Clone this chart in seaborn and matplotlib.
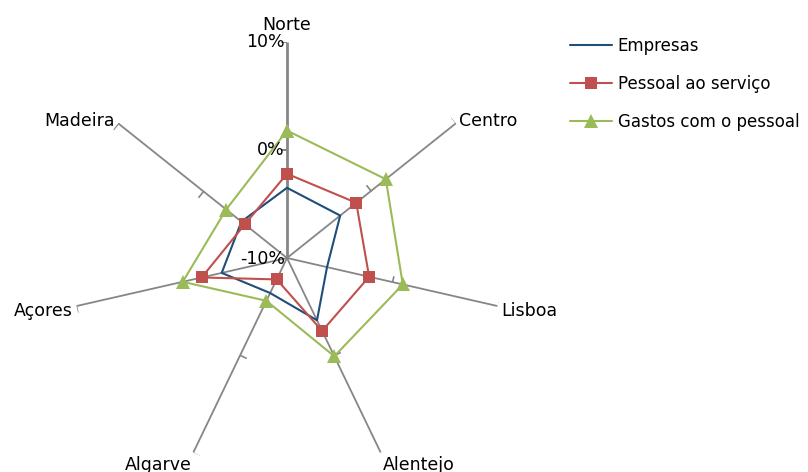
import numpy as np
import pandas as pd
import matplotlib
matplotlib.use("Agg")
import matplotlib.pyplot as plt
import seaborn as sns

# Data (variation, %)
regions = ["Norte", "Centro", "Lisboa", "Alentejo", "Algarve", "Açores", "Madeira"]
empresas = [-3.5, -3.7, -6.2, -3.6, -6.4, -3.8, -4.6]
pessoal = [-2.2, -1.8, -2.2, -2.5, -7.8, -1.9, -5.0]
gastos = [1.8, 1.7, 1.0, 0.1, -5.6, -0.1, -2.8]
r_ticks = [-10, 0, 10]
r_tick_labels = ["-10%", "0%", "10%"]

series_names = ["Empresas", "Pessoal ao serviço", "Gastos com o pessoal"]
colors = ["#1F4E79", "#C0504D", "#9BBB59"]
markers = [None, "s", "^"]
msizes = [0, 9, 10]

sns.set_theme(style="white")
plt.rcParams["font.family"] = ["DejaVu Sans"]
FS = 12.5

fig = plt.figure(figsize=(8.08, 4.72), dpi=100)
W, H = 808, 472
cx, cy, R = 287, 258, 216
ax = fig.add_axes([(cx - R) / W, 1 - (cy + R) / H, 2 * R / W, 2 * R / H], projection="polar")
ax.set_theta_zero_location("N")
ax.set_theta_direction(-1)
ax.set_facecolor("none")

n = len(regions)
theta = np.arange(n) * 2 * np.pi / n
theta_closed = np.append(theta, 2 * np.pi)

# spokes with half tick marks
for i, t in enumerate(theta):
    ax.plot([t, t], [r_ticks[0], r_ticks[-1]], color="#868686",
            lw=2.0 if i == 0 else 1.3, zorder=1, solid_capstyle="butt")
    a = np.pi / 2 - t  # screen angle of outward direction
    tick = [(0, 0), (np.cos(a + np.pi / 2), np.sin(a + np.pi / 2))]
    ax.plot([t, t], r_ticks[1:], linestyle="none", marker=tick, ms=9,
            mec="#868686", mfc="none", mew=1.2, zorder=1)

# series
for name, vals, c, m, ms in zip(series_names, [empresas, pessoal, gastos], colors, markers, msizes):
    df = pd.DataFrame({"theta": theta_closed, "value": np.append(vals, vals[0])})
    sns.lineplot(data=df, x="theta", y="value", sort=False, estimator=None,
                 color=c, lw=1.5, marker=m, markersize=ms, markeredgewidth=0,
                 label=name, ax=ax, zorder=3)

ax.set_ylim(r_ticks[0], r_ticks[-1])
ax.set_xticks([])
ax.set_yticks([])
ax.set_xlabel("")
ax.set_ylabel("")
ax.grid(False)
ax.spines["polar"].set_visible(False)

# radial labels along the Norte axis
for v, lab in zip(r_ticks, r_tick_labels):
    ax.annotate(lab, xy=(0, v), xytext=(-1.5, -1 if v == r_ticks[0] else 0),
                textcoords="offset points", ha="right", va="center",
                fontsize=FS, color="black", annotation_clip=False)

# category labels
for t, lab in zip(theta, regions):
    sx, sy = np.sin(t), np.cos(t)
    ha = "left" if sx > 0.2 else ("right" if sx < -0.2 else "center")
    va = "bottom" if sy > 0.9 else ("top" if sy < -0.5 else "center")
    off = 3
    dy = off * sy
    if sy > 0.9:
        dy += 3
    elif -0.5 < sy < 0:
        dy -= 3
    ax.annotate(lab, xy=(t, r_ticks[-1]), xytext=(off * sx, dy),
                textcoords="offset points", ha=ha, va=va,
                fontsize=FS, color="black", annotation_clip=False)

if ax.get_legend() is not None:
    ax.get_legend().remove()
handles, labels = ax.get_legend_handles_labels()
fig.legend(handles, labels, loc="upper left", bbox_to_anchor=(570 / W, 1 - 37 / H),
           frameon=False, fontsize=12, handlelength=2.5, handletextpad=0.35,
           labelspacing=1.2, borderaxespad=0, borderpad=0, labelcolor="black")

fig.savefig("out.png", dpi=100)
